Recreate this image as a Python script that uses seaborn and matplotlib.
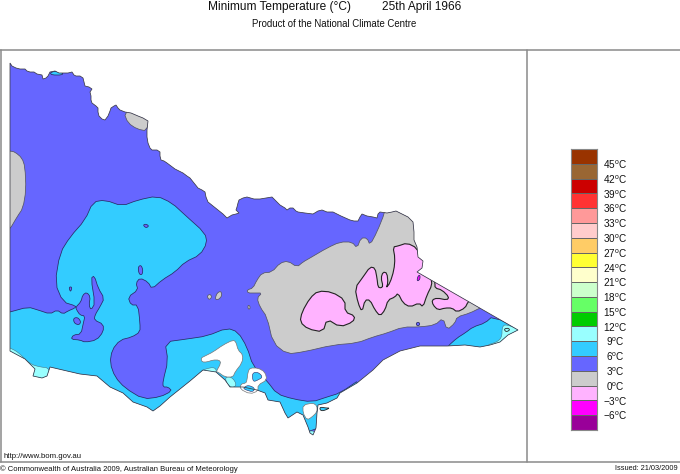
import numpy as np
import matplotlib
matplotlib.use("Agg")
import matplotlib.pyplot as plt
from matplotlib.colors import ListedColormap
from matplotlib.patches import Polygon
import seaborn as sns

sns.set_theme(style="white")
plt.rcParams['font.family'] = ['Liberation Sans', 'DejaVu Sans']
plt.rcParams['mathtext.fontset'] = 'custom'
plt.rcParams['mathtext.rm'] = 'Liberation Sans'

# ---- legend data
legend_colors = ['#993300', '#996633', '#CC0000', '#FF3333', '#FF9999', '#FFCCCC', '#FFCC66',
                 '#FFFF33', '#FFFFCC', '#CCFFCC', '#66FF66', '#00CC00', '#99FFFF', '#33CCFF',
                 '#6666FF', '#CCCCCC', '#FFB3FF', '#FF00FF', '#990099']
legend_temps = [45, 42, 39, 36, 33, 30, 27, 24, 21, 18, 15, 12, 9, 6, 3, 0, -3, -6]

# ---- region outlines
state = [(10,63),(12,66),(16,68),(20,69),(25,69),(27,71),(30,72),(34,72),(37,74),(42,75),(43,79),(46,78),(48,76),
         (50,72),(55,71),(59,73),(63,73),(68,73),(72,72),(74,75),(76,76),(80,76),(83,78),(84,82),(85,86),(89,87),
         (92,89),(90,92),(91,96),(91,100),(92,103),(96,106),(98,108),(98,112),(99,116),(102,119),(105,120),(108,116),
         (110,111),(111,108),(114,106),(116,105),(118,108),(120,110),(125,112),(131,113),(138,116),(143,118),(148,121),
         (147,130),(147,137),(148,143),(150,148),(152,150),(157,150),(160,152),(160,156),(161,160),(164,161),(167,163),
         (171,166),(175,169),(179,171),(183,173),(187,176),(190,178),(194,183),(198,188),(202,190),(205,192),(206,197),
         (208,202),(213,206),(218,210),(223,214),(227,218),(232,215),(236,214),(239,213),(236,210),(237,207),(238,203),
         (239,200),(243,198),(247,197),(254,199),(260,199),(266,198),(272,197),(276,201),(280,205),(285,208),(287,210),
         (290,208),(293,208),(296,211),(298,212),(305,213),(313,214),(318,211),(322,210),(327,212),(333,212),(341,216),
         (350,220),(354,221),(358,221),(360,217),(362,214),(367,216),(373,217),(377,218),(378,214),(380,212),(387,213),
         (392,212),(396,211),(402,214),(408,217),(413,222),(414,232),(414,240),(417,247),(418,257),(423,261),(422,268),
         (417,272),(518,330),(508,335),(500,342),(490,345),
         (480,347),(465,345),(447,346),(420,346),(400,351),(383,360),(373,370),(357,383),(340,393),(337,398),
         (327,403),(318,405),(317,413),(316,428),(313,435),(310,433),(308,427),(303,415),(297,412),(288,418),
         (285,413),(280,402),(268,400),(265,393),(257,390),(243,387),(230,387),(225,380),(216,372),(203,370),
         (190,381),(180,389),(170,397),(160,406),(153,411),(147,407),(133,402),(123,393),(110,387),(97,376),
         (80,374),(67,371),(50,367),(47,376),(42,378),(33,376),(35,369),(25,359),(10,351)]

band_9_main = [(10,312),(28,307),(38,310),(50,314),(57,310),(63,314),(68,311),(75,308),(76,306),(63,302),
               (55,283),(60,253),(70,237),(85,220),(93,202),(105,200),(122,206),(138,200),(157,196),(172,203),
               (185,215),(205,233),(207,243),(200,255),(185,262),(175,272),(162,280),(152,289),(148,282),
               (140,278),(136,283),(138,290),(128,297),(131,305),(138,305),(140,323),(140,332),(132,337),
               (120,340),(112,350),(110,363),(115,377),(125,388),(143,399),(160,397),(172,391),(168,387),
               (163,387),(163,381),(168,361),(165,342),(187,339),(207,336),(227,328),(238,332),(247,347),
               (253,366),(267,381),(277,394),(293,399),(312,402),(327,397),(340,393),(362,378),(362,425),
               (150,450),(5,400),(5,313)]
band_9_east = [(447,347),(457,338),(465,333),(473,327),(485,323),(493,316),(525,332),(525,352),(447,352)]
band_9_north = [(50,73),(55,71),(63,73),(62,75),(52,75)]
band_12_east = [(487,345),(497,342),(502,337),(502,327),(506,324),(525,332),(525,350),(487,350)]
band_12_west = [(5,346),(10,348),(18,352),(30,364),(40,367),(50,368),(50,385),(30,385),(5,360)]
band_12_bay = [(225,377),(232,377),(237,385),(232,388),(227,384)]
band_12_sliver = [(200,372),(205,369),(215,367),(217,373),(205,372)]
band_12_tip = [(308,431),(315,431),(314,437),(309,437)]

band_6_inlet = [(75.7,307.3),(81,301.7),(82.7,295),(86.7,292.3),(90.3,296.7),(89,305),(91,310),(95,303.3),
                (91,278.3),(94.3,275.7),(98.3,288.3),(104.3,298.3),(100,306.7),(95,315),(94.3,320),
                (103.3,324.3),(103.3,331.7),(96.7,340),(85,342.3),(80,340),(71,339.3),(73.3,335),(81,334),
                (83.3,323.3),(85,316),(80,315),(76.7,310)]
band_6_isle = [(73.3,318.3),(77.7,317.3),(81,321.7),(79,325),(74.3,323.3)]
band_6_spots = [[(69,287),(72,287),(71,291),(70,291)],
                [(143,225),(146,224),(149,226),(146,228)],
                [(138,267),(141,265),(143,270),(142,275),(139,274)],
                [(416,323),(419,322),(420,325),(417,326)]]

band_3_main = [(385,205),(385,212),(377,232),(370,245),(367,238),(361,238),(357,248),(352,242),
               (340,242),(327,248),(310,258),(303,262),(297,267),(288,261),(280,263),(272,272),(262,273),(257,280),
               (253,288),(247,290),(248,293),(255,293),(262,293),(257,298),(260,307),(267,317),(273,343),
               (287,354),(303,352),(333,345),(357,343),(373,337),(387,333),(403,327),(420,327),(435,325),
               (443,318),(447,330),(455,323),(457,317),(470,313),(480,308),(500,300),(440,250),(425,205)]
band_3_west = [(5,151),(10,151),(15,152),(22,158),(25,167),(26,190),(23,208),(17,217),(10,229),(5,232)]
band_3_north = [(124,113),(135,108),(150,115),(147,131),(137,129),(128,123)]
band_3_spots = [[(207,296),(210,294),(212,297),(209,300)],
                [(215,299),(217,293),(221,291),(222,296),(218,300)],
                [(248,305),(250,306),(250,309),(248,309)]]

band_0_west = [(310,298),(318,291),(332,292),(345,300),(345,312),(355,316),(353,322),(340,327),(327,319),
               (323,332),(308,329),(300,322),(302,312)]
band_0_main = [(393,247),(398,246),(407,243),(417,248),(419,257),(425,261),(425,268),(425,270),(431,278),
               (432,285),(427,295),(423,307),(419,303),(410,307),(403,303),(398,293),(395,297),(388,300),
               (385,310),(380,316),(375,310),(370,300),(365,300),(362,312),(358,303),(355,288),(363,277),
               (370,267),(375,268),(377,278),(378,287),(381,288),(383,286),(381,278),(383,272),(387,273),
               (388,283),(386,288),(390,283),(394,270),(395,258)]
band_0_east = [(435,283),(433,275),(472,298),(468,302),(465,308),(457,312),(452,308),(445,308),(438,310),
               (433,305),(432,300),(437,298),(447,300),(449,297),(442,290),(435,288)]
band_m3_spot = [(417,280),(418,276),(420,275),(420,279),(418,281)]

water_bay = [(201,358),(205,356),(213,352),(223,345),(233,340),(236,342),(238,350),(243,355),(242,363),
             (235,372),(233,377),(225,377),(218,372),(216,372),(221,363),(219,360),(213,360),(207,362),(202,362)]
water_port = [(248,372),(250,368),(258,368),(265,372),(267,380),(258,385),(258,391),(250,394),(240,389),
              (241,384),(246,383),(247,380)]
water_corner = [(303,405),(313,403),(317,406),(317,412),(312,417),(307,420),(303,413)]
isle_port = [(252,373),(258,372),(263,377),(258,380),(253,382)]
isle_phillip = [(243,388),(248,385),(255,388),(253,392),(246,390)]
isle_east_inlet = [(320,407),(326,408),(330,408),(323,411),(320,410)]
isle_tip = [(504,329),(508,328),(510,330),(506,332)]

fig = plt.figure(figsize=(6.8, 4.74), dpi=100)
ax = fig.add_axes([0, 0, 1, 1])
ax.set_xlim(0, 680)
ax.set_ylim(474, 0)
ax.axis('off')

c_m3, c_0, c_3, c_6, c_9, c_12 = '#FF00FF', '#FFB3FF', '#CCCCCC', '#6666FF', '#33CCFF', '#99FFFF'
EDGE = '#2a2a66'

state_patch = Polygon(state, closed=True, fc=c_6, ec='none', zorder=1)
ax.add_patch(state_patch)


def rounded(points, passes=2):
    """Corner-cut a traced outline so the contour draws as a curve."""
    p = np.asarray(points, dtype=float)
    for _ in range(passes):
        q = np.roll(p, -1, axis=0)
        p = np.column_stack([0.75 * p + 0.25 * q, 0.25 * p + 0.75 * q]).reshape(-1, 2)
    return p


def zone(points, color, z=2, edge=EDGE, lw=0.55, clip=True, passes=2):
    patch = Polygon(rounded(points, passes), closed=True, fc=color, ec=edge, lw=lw, zorder=z)
    ax.add_patch(patch)
    if clip:
        patch.set_clip_path(state_patch)
    return patch


for pts in (band_9_main, band_9_east, band_9_north):
    zone(pts, c_9, 2, passes=1)
for pts in (band_12_east, band_12_west, band_12_bay, band_12_sliver, band_12_tip):
    zone(pts, c_12, 3, edge='#447788', lw=0.4)
zone(band_6_inlet, c_6, 3, passes=1)
zone(band_6_isle, c_6, 3)
for pts in band_6_spots:
    zone(pts, c_6, 5)
for pts in (band_3_main, band_3_west, band_3_north):
    zone(pts, c_3, 3, edge='#555566', passes=1)
for pts in band_3_spots:
    zone(pts, c_3, 3, edge='#555566')
for pts in (band_0_west, band_0_main, band_0_east):
    zone(pts, c_0, 4, edge='#222222', lw=0.8, passes=1)
zone(band_m3_spot, c_m3, 5)

for pts in (water_bay, water_port, water_corner):
    zone(pts, 'white', 6, edge='#777777', lw=0.5, clip=False, passes=1)
zone(isle_port, c_9, 7, lw=0.4, clip=False)
zone(isle_phillip, c_9, 7, lw=0.4, clip=False)
zone(isle_east_inlet, c_9, 7, edge='#222222', lw=0.6, clip=False)
zone(isle_tip, c_12, 7, edge='#222222', lw=0.6, clip=False)

ax.add_patch(Polygon(state, closed=True, fc='none', ec='#3c3c44', lw=0.55, zorder=8))

# frame
frame = '#8a8a8a'
ax.plot([0, 680], [50, 50], color=frame, lw=1.1)
ax.plot([0, 680], [462, 462], color=frame, lw=1.1)
ax.plot([526.5, 526.5], [50, 462], color=frame, lw=1.1)
ax.plot([0.5, 0.5], [50, 462], color=frame, lw=1.1)

# titles
tc = '#111111'
ax.text(208, 10, 'Minimum Temperature (°C)', fontsize=8.6, color=tc, ha='left', va='baseline')
ax.text(382, 10, '25th April 1966', fontsize=8.6, color=tc, ha='left', va='baseline')
ax.text(334.5, 23.5, 'Product of the National Climate Centre', fontsize=6.9, color=tc, ha='center', va='center')
ax.text(4, 456, 'http://www.bom.gov.au', fontsize=5.6, color=tc, ha='left', va='center')
ax.text(0, 469, '© Commonwealth of Australia 2009, Australian Bureau of Meteorology', fontsize=5.5, color=tc,
        ha='left', va='center')
ax.text(678, 469, 'Issued: 21/03/2009', fontsize=5.3, color=tc, ha='right', va='center')

# legend as a seaborn heatmap
cax = fig.add_axes([571 / 680, 1 - 430 / 474, 26 / 680, 281 / 474])
cells = np.arange(len(legend_colors)).reshape(-1, 1)
sns.heatmap(cells, ax=cax, cmap=ListedColormap(legend_colors), cbar=False, xticklabels=False,
            linewidths=0.6, linecolor='#666666', vmin=0, vmax=len(legend_colors) - 1)
cax.set_yticks(np.arange(1, len(legend_temps) + 1))
labels = [(f'{t}' if t >= 0 else f'\u2212{-t}') + r'$^{\mathrm{o}}$C' for t in legend_temps]
cax.set_yticklabels(labels, rotation=0, fontsize=7.2, color=tc, ha='center')
cax.yaxis.tick_right()
cax.tick_params(axis='y', length=0, pad=13)
for side in cax.spines.values():
    side.set_visible(True)
    side.set_color('#888888')
    side.set_linewidth(0.8)

fig.savefig('out.png', dpi=100)
